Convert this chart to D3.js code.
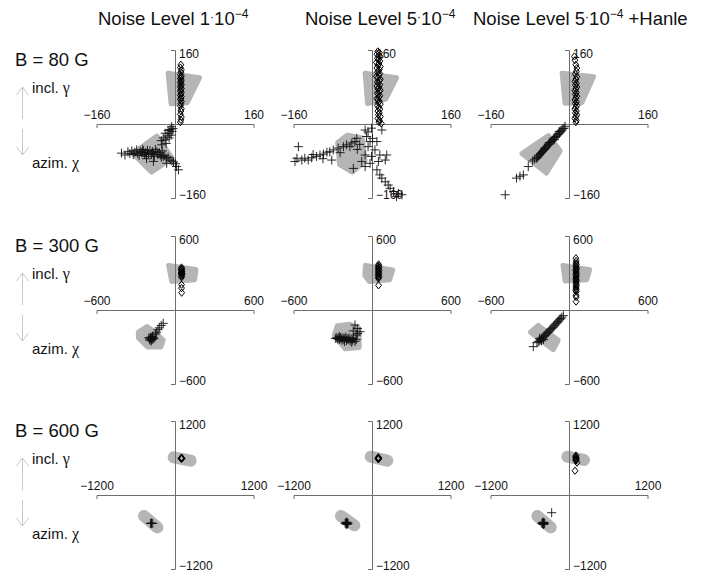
<!DOCTYPE html>
<html><head><meta charset="utf-8">
<script src="https://cdn.jsdelivr.net/npm/d3@7"></script>
<style>body{margin:0;background:#fff;} svg{display:block;}</style>
</head><body>
<svg id="chart" width="711" height="576"></svg>
<script>
// ---------------- DATA ----------------
const noiseBase = ["1", "5", "5"];
const noiseSuffix = ["", "", " +Hanle"];
const fieldLabels = ["B = 80 G", "B = 300 G", "B = 600 G"];
const axisRanges = [160, 600, 1200];
const inclLabel = "incl. ";
const azimLabel = "azim. ";

// Row B = 80 G
const shade80_n1 = [[[-14,110],[50,100],[25,46],[-8,44]], [[-86,-64],[-37,-26],[-6,-74],[-48,-104]]];
const shade80_n5 = [[[-14,110],[50,100],[28,54],[-9,44]], [[-70,-40],[-50,-24],[-20,-30],[-14,-80],[-40,-104],[-66,-88]]];
const shade80_h  = [[[-14,110],[50,102],[26,46],[-8,45]], [[-96,-64],[-42,-25],[-18,-58],[-46,-106]]];

const incl80_n1 = [[12,128],[11,122],[13,117],[12,112],[11,107],[13,104],[12,101],[11,98],[13,95],[12,92],[11,89],[13,86],[12,83],[11,80],[13,77],[12,74],[11,71],[13,68],[12,65],[11,62],[13,59],[12,56],[11,53],[13,49],[12,44],[11,39],[13,33],[12,28],[11,21],[13,15],[12,9],[11,4]];
const azim80_n1 = [[-109,-63],[-102,-67],[-96,-60],[-92,-64],[-88,-58],[-85,-66],[-82,-61],[-78,-56],[-76,-64],[-73,-68],[-71,-59],[-68,-62],[-66,-55],[-64,-58],[-62,-66],[-60,-62],[-58,-70],[-56,-57],[-54,-64],[-51,-58],[-48,-66],[-46,-60],[-44,-63],[-42,-70],[-40,-55],[-37,-60],[-35,-66],[-32,-62],[-30,-67],[-28,-72],[-26,-58],[-24,-70],[-21,-68],[-18,-74],[-14,-72],[-10,-78],[-6,-80],[-3,-82],[-58,-75],[-44,-81],[-17,-85],[-7,-6],[-4,-10],[-10,-12],[-14,-14],[-6,-16],[-12,-20],[-20,-20],[-16,-26],[-24,-30],[-20,-34],[-28,-36],[-12,-30],[-27,-45],[-18,-42],[-8,-24],[3,-92],[7,-99],[1,-86]];

const incl80_n5 = [[12,157],[15,154],[10,151],[14,148],[17,145],[11,142],[13,139],[16,136],[9,133],[14,130],[12,127],[17,124],[10,121],[15,118],[13,115],[11,112],[16,109],[14,106],[9,103],[12,100],[17,97],[15,94],[11,91],[13,88],[16,85],[10,82],[14,79],[12,76],[17,73],[15,70],[11,67],[13,64],[16,61],[14,58],[10,55],[12,52],[15,49],[13,46],[17,43],[11,40],[14,36],[16,32],[12,28],[15,24],[13,20],[17,16],[12,12],[15,8],[14,4],[19,1]];
const azim80_n5 = [[-157,-81],[-153,-74],[-150,-49],[-143,-78],[-137,-74],[-130,-78],[-123,-73],[-113,-70],[-106,-67],[-99,-65],[-92,-61],[-86,-60],[-79,-56],[-69,-52],[-58,-49],[-52,-45],[-45,-49],[-41,-41],[-35,-38],[-31,-31],[-82,-78],[-38,-96],[-14,-13],[-8,-17],[-1,-9],[20,-13],[-11,-27],[1,-31],[-4,-38],[10,-38],[-8,-49],[6,-56],[-14,-67],[-1,-70],[16,-67],[30,-67],[-21,-81],[-4,-85],[13,-81],[27,-78],[-14,-92],[10,-99],[16,-110],[20,-117],[27,-125],[33,-132],[37,-139],[44,-146],[54,-150],[61,-153],[50,-157],[-65,-62],[-100,-75],[-120,-66],[-30,-55],[-25,-44]];

const incl80_h = [[11,146],[12,138],[14,128],[16,121],[15,114],[13,108],[16,102],[14,97],[12,92],[15,88],[13,84],[16,80],[14,76],[12,72],[15,68],[13,64],[16,60],[14,56],[12,52],[15,48],[13,44],[16,40],[14,36],[12,32],[15,28],[13,24],[16,20],[14,16],[12,12],[15,8],[14,4]];
const azim80_h = [[-8,-5],[-10,-9],[-12,-10],[-14,-13],[-16,-15],[-18,-17],[-20,-20],[-22,-22],[-24,-24],[-26,-27],[-28,-29],[-30,-30],[-32,-33],[-34,-36],[-36,-38],[-38,-40],[-40,-43],[-42,-45],[-44,-47],[-46,-50],[-48,-52],[-50,-55],[-52,-57],[-54,-59],[-56,-62],[-58,-64],[-60,-67],[-62,-69],[-64,-72],[-66,-74],[-70,-76],[-74,-80],[-83,-92],[-93,-110],[-100,-113],[-107,-117],[-130,-153],[-20,-16],[-30,-34],[-40,-40],[-50,-52]];

// Row B = 300 G
const shade300_n1 = [[[-48,362],[160,328],[150,245],[-25,232]], [[-280,-180],[-215,-135],[-150,-180],[-90,-245],[-108,-300],[-210,-300],[-280,-225]]];
const shade300_n5 = [[[-50,362],[158,325],[135,245],[-20,232],[-55,280]], [[-265,-128],[-170,-115],[-98,-152],[-98,-305],[-205,-315],[-288,-205]]];
const shade300_h  = [[[-46,362],[158,326],[135,245],[-30,235]], [[-295,-180],[-235,-125],[-82,-245],[-120,-322]]];

const incl300_n1 = [[50,345],[52,335],[49,325],[51,315],[50,305],[52,295],[49,285],[51,275],[50,265],[48,330],[53,310],[47,300],[54,290],[50,205],[50,178],[51,140]];
const azim300_n1 = [[-195,-235],[-188,-228],[-182,-240],[-178,-225],[-175,-232],[-170,-238],[-185,-220],[-192,-245],[-168,-222],[-180,-250],[-172,-215],[-160,-230],[-200,-225],[-150,-195],[-140,-180],[-130,-160],[-120,-145],[-105,-125],[-90,-108]];

const incl300_n5 = [[50,370],[52,360],[48,352],[53,344],[50,336],[47,328],[54,320],[50,312],[48,304],[53,296],[50,288],[47,280],[53,272],[50,264],[49,256],[50,200]];
const azim300_n5 = [[-280,-230],[-270,-225],[-262,-235],[-255,-228],[-248,-240],[-240,-222],[-235,-232],[-228,-245],[-222,-225],[-215,-238],[-208,-230],[-200,-220],[-195,-248],[-190,-232],[-182,-240],[-175,-225],[-168,-250],[-160,-235],[-155,-262],[-148,-245],[-140,-230],[-130,-255],[-120,-240],[-250,-215],[-210,-255],[-130,-122],[-112,-150],[-92,-176],[-143,-170],[-122,-203],[-110,-190]];

const incl300_h = [[53,420],[55,398],[54,380],[56,368],[53,358],[55,348],[57,338],[54,328],[52,318],[56,308],[54,298],[53,288],[56,278],[55,268],[52,258],[54,248],[57,238],[53,228],[55,218],[54,208],[56,198],[53,188],[55,178],[54,168],[52,158],[55,148],[54,120],[55,105],[54,68]];
const azim300_h = [[-43,-46],[-55,-58],[-62,-70],[-70,-75],[-78,-88],[-85,-95],[-92,-105],[-100,-112],[-108,-122],[-115,-130],[-122,-140],[-130,-148],[-138,-155],[-145,-162],[-152,-172],[-160,-180],[-168,-188],[-175,-196],[-182,-205],[-190,-212],[-198,-220],[-205,-228],[-212,-236],[-220,-244],[-228,-252],[-236,-258],[-245,-265],[-210,-250],[-195,-240],[-225,-230],[-273,-297]];

// Row B = 600 G
const shade600_n1 = [[[-20,611],[240,557]], [[-474,-341],[-270,-525]]];
const shade600_n5 = [[[-20,622],[234,557]], [[-474,-341],[-270,-492]]];
const shade600_h  = [[[-26,622],[229,568]], [[-484,-341],[-280,-525]]];

const incl600_n1 = [[96,595],[104,595],[100,585],[100,605],[100,595],[92,595],[108,595]];
const azim600_n1 = [[-375,-460],[-340,-460],[-358,-462],[-360,-455]];

const incl600_n5 = [[97,595],[97,612],[97,578],[90,595],[104,595]];
const azim600_n5 = [[-387,-459],[-400,-450],[-375,-468],[-395,-470],[-380,-448],[-410,-460],[-365,-458],[-390,-440],[-385,-478]];

const incl600_h = [[107,640],[105,620],[110,600],[104,580],[108,560],[100,610],[114,590],[106,570],[122,525],[92,394]];
const azim600_h = [[-393,-459],[-405,-450],[-380,-468],[-400,-470],[-385,-448],[-415,-462],[-372,-456],[-395,-440],[-390,-478],[-265,-287]];

const panelShades = [[shade80_n1, shade80_n5, shade80_h],[shade300_n1, shade300_n5, shade300_h],[shade600_n1, shade600_n5, shade600_h]];
const panelIncl = [[incl80_n1, incl80_n5, incl80_h],[incl300_n1, incl300_n5, incl300_h],[incl600_n1, incl600_n5, incl600_h]];
const panelAzim = [[azim80_n1, azim80_n5, azim80_h],[azim300_n1, azim300_n5, azim300_h],[azim600_n1, azim600_n5, azim600_h]];

// ---------------- LAYOUT / STYLE ----------------
const colCenters = [175, 372, 569];
const rowCenters = [124, 310, 495];
const titleX = [98, 305, 473];
const halfW = 78.5, halfH = 74;
const shadeColor = "#b5b5b5";
const axisColor = "#6e6e6e";
const arrowColor = "#c8c8c8";
const FONT = "'Liberation Sans', Arial, Helvetica, sans-serif";
const SERIF = "'Liberation Serif', 'DejaVu Serif', serif";

const svg = d3.select("#chart");
svg.append("rect").attr("width", 711).attr("height", 576).attr("fill", "#fff");

// Column titles
noiseBase.forEach((b, i) => {
  const t = svg.append("text").attr("x", titleX[i]).attr("y", 25)
    .attr("font-family", FONT).attr("font-size", 18.5).attr("fill", "#111");
  t.append("tspan").text("Noise Level " + b);
  t.append("tspan").attr("font-size", 12).attr("dy", -4).text("·");
  t.append("tspan").attr("dy", 4).text("10");
  t.append("tspan").attr("font-size", 12).attr("dy", -7).text("−4");
  if (noiseSuffix[i]) t.append("tspan").attr("dy", 7).text(noiseSuffix[i]);
});

const diamondPath = "M0,-3.6L2.9,0L0,3.6L-2.9,0Z";
const plusPath = "M-4.5,0H4.5M0,-4.5V4.5";

rowCenters.forEach((cy, r) => {
  const R = axisRanges[r];
  // row labels
  svg.append("text").attr("x", 15).attr("y", cy - 58)
    .attr("font-family", FONT).attr("font-size", 18.5).attr("fill", "#111").text(fieldLabels[r]);
  const li = svg.append("text").attr("x", 32).attr("y", cy - 31)
    .attr("font-family", FONT).attr("font-size", 15).attr("fill", "#111");
  li.append("tspan").text(inclLabel);
  li.append("tspan").attr("font-family", SERIF).attr("font-size", 16).text("γ");
  const la = svg.append("text").attr("x", 32).attr("y", cy + 44)
    .attr("font-family", FONT).attr("font-size", 15).attr("fill", "#111");
  la.append("tspan").text(azimLabel);
  la.append("tspan").attr("font-family", SERIF).attr("font-size", 16).text("χ");
  // arrows
  const ag = svg.append("g").attr("stroke", arrowColor).attr("fill", "none").attr("stroke-width", 1);
  ag.append("path").attr("d", `M22.5,${cy-5}V${cy-37}M16.5,${cy-29}L22.5,${cy-37}L28.5,${cy-29}`);
  ag.append("path").attr("d", `M22.5,${cy+5}V${cy+31}M16.5,${cy+23}L22.5,${cy+31}L28.5,${cy+23}`);

  colCenters.forEach((cx, c) => {
    const g = svg.append("g").attr("transform", `translate(${cx},${cy})`);
    const x = d3.scaleLinear().domain([-R, R]).range([-halfW, halfW]);
    const y = d3.scaleLinear().domain([-R, R]).range([halfH, -halfH]);

    // shaded model regions
    panelShades[r][c].forEach(poly => {
      const closed = poly.length > 2;
      const line = d3.line().x(d => x(d[0])).y(d => y(d[1]))
        .curve(closed ? d3.curveLinearClosed : d3.curveLinear);
      g.append("path").attr("d", line(poly))
        .attr("fill", closed ? shadeColor : "none")
        .attr("stroke", shadeColor)
        .attr("stroke-width", closed ? 5 : 12)
        .attr("stroke-linejoin", "round").attr("stroke-linecap", "round");
    });

    // axes
    const fmt = d3.format("d");
    const gx = g.append("g").call(d3.axisBottom(x).tickValues([-R, R]).tickFormat(fmt).tickSizeInner(0).tickSizeOuter(4));
    const gy = g.append("g").call(d3.axisLeft(y).tickValues([-R, R]).tickFormat(fmt).tickSizeInner(0).tickSizeOuter(4));
    [gx, gy].forEach(a => {
      a.attr("font-family", FONT).attr("font-size", 12);
      a.select(".domain").attr("stroke", axisColor);
      a.selectAll(".tick line").remove();
      a.selectAll("text").attr("fill", "#111");
    });
    gx.selectAll("text").attr("y", -5).attr("dy", 0).attr("text-anchor", "middle");
    gy.selectAll("text").attr("x", 4).attr("text-anchor", "start")
      .attr("dy", d => d > 0 ? "0.6em" : "0.08em");

    // inclination (diamonds)
    g.append("g").selectAll("path").data(panelIncl[r][c]).join("path")
      .attr("d", diamondPath)
      .attr("transform", d => `translate(${x(d[0])},${y(d[1])})`)
      .attr("fill", "none").attr("stroke", "#000").attr("stroke-width", 1);

    // azimuth (plus)
    g.append("g").selectAll("path").data(panelAzim[r][c]).join("path")
      .attr("d", plusPath)
      .attr("transform", d => `translate(${x(d[0])},${y(d[1])})`)
      .attr("fill", "none").attr("stroke", "#111").attr("stroke-width", 0.9);
  });
});
</script>
</body></html>
